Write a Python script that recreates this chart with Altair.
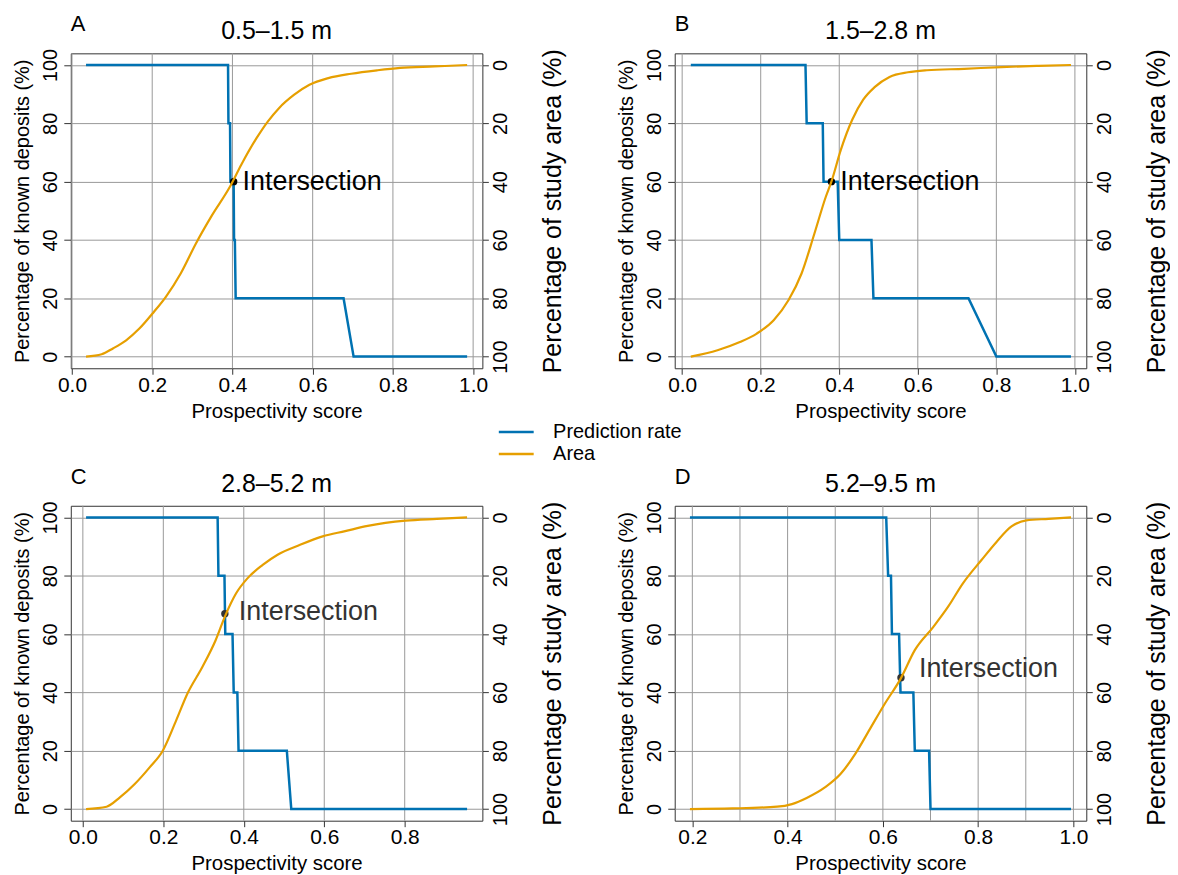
import altair as alt
import pandas as pd

FONT = "Liberation Sans"
BLUE = "#0072B2"
ORANGE = "#E69F00"

# ---------------- data ----------------
panel_letters = ["A", "B", "C", "D"]
panel_titles = ["0.5\u20131.5 m", "1.5\u20132.8 m", "2.8\u20135.2 m", "5.2\u20139.5 m"]
series_names = ["Prediction rate", "Area"]

# prediction rate curves (% of known deposits)
a_pr_score = [0.035, 0.389, 0.390, 0.394, 0.395, 0.403, 0.404, 0.406, 0.408, 0.677, 0.702, 0.985]
a_pr_pct = [100, 100, 80, 80, 60, 60, 40, 40, 20, 20, 0, 0]
b_pr_score = [0.022, 0.314, 0.317, 0.358, 0.360, 0.396, 0.400, 0.482, 0.487, 0.729, 0.800, 0.990]
b_pr_pct = [100, 100, 80, 80, 60, 60, 40, 40, 20, 20, 0, 0]
c_pr_score = [0.008, 0.335, 0.337, 0.352, 0.354, 0.372, 0.375, 0.384, 0.387, 0.507, 0.518, 0.955]
c_pr_pct = [100, 100, 80, 80, 60, 60, 40, 40, 20, 20, 0, 0]
d_pr_score = [0.195, 0.607, 0.611, 0.617, 0.619, 0.634, 0.637, 0.664, 0.667, 0.697, 0.700, 0.995]
d_pr_pct = [100, 100, 80, 80, 60, 60, 40, 40, 20, 20, 0, 0]

# area curves (% of study area, right reversed axis)
a_area_score = [0.035, 0.074, 0.102, 0.135, 0.168, 0.204, 0.234, 0.271, 0.309, 0.347, 0.394, 0.422,
                0.460, 0.488, 0.516, 0.554, 0.592, 0.639, 0.696, 0.762, 0.818, 0.903, 0.985]
a_area_pct = [100, 99.2, 97.2, 94.4, 90.4, 84.7, 79.5, 71.5, 61.2, 52.0, 41.7, 34.2,
              25.1, 19.4, 14.8, 10.2, 6.8, 4.5, 3.0, 1.8, 1.0, 0.5, 0]
b_area_score = [0.022, 0.090, 0.147, 0.190, 0.233, 0.271, 0.304, 0.337, 0.366, 0.380, 0.404,
                0.433, 0.461, 0.490, 0.528, 0.575, 0.623, 0.718, 0.813, 0.908, 0.990]
b_area_pct = [100, 97.8, 95.0, 92.1, 87.5, 80.6, 71.5, 57.7, 45.1, 40.0, 29.1,
              18.8, 11.9, 7.6, 4.1, 2.5, 1.8, 1.3, 0.7, 0.3, 0]
c_area_score = [0.008, 0.059, 0.092, 0.129, 0.166, 0.199, 0.232, 0.260, 0.297, 0.330, 0.353,
                0.381, 0.409, 0.447, 0.484, 0.540, 0.596, 0.652, 0.708, 0.802, 0.880, 0.955]
c_area_pct = [100, 99.2, 96.0, 91.4, 85.7, 79.9, 69.6, 60.4, 51.3, 42.1, 34.0,
              26.0, 20.9, 16.3, 12.8, 9.4, 6.5, 4.7, 2.9, 1.1, 0.5, 0]
d_area_score = [0.195, 0.284, 0.378, 0.409, 0.440, 0.479, 0.511, 0.542, 0.573, 0.604, 0.638,
                0.667, 0.706, 0.737, 0.768, 0.807, 0.839, 0.870, 0.901, 0.948, 0.995]
d_area_pct = [100, 99.8, 99.2, 98.3, 96.2, 92.5, 88.0, 81.1, 72.5, 63.9, 55.1,
              45.5, 37.5, 30.6, 22.6, 14.6, 8.3, 3.1, 1.0, 0.5, 0]

pr_scores = [a_pr_score, b_pr_score, c_pr_score, d_pr_score]
pr_pcts = [a_pr_pct, b_pr_pct, c_pr_pct, d_pr_pct]
area_scores = [a_area_score, b_area_score, c_area_score, d_area_score]
area_pcts = [a_area_pct, b_area_pct, c_area_pct, d_area_pct]

# intersection points
inter_score = [0.403, 0.380, 0.353, 0.638]
inter_pct = [60, 60, 67, 45]
inter_color = ["#000000", "#000000", "#333333", "#333333"]
inter_dx = [9, 9, 14, 18]
inter_dy = [0, 0, -2, -9]

# axes
x_domains = [[-0.003, 1.023], [-0.019, 1.029], [-0.030, 0.993], [0.163, 1.027]]
x_ticks = [[0.0, 0.2, 0.4, 0.6, 0.8, 1.0], [0.0, 0.2, 0.4, 0.6, 0.8, 1.0],
           [0.0, 0.2, 0.4, 0.6, 0.8], [0.2, 0.4, 0.6, 0.8, 1.0]]
x_grids = [[0.0, 0.2, 0.4, 0.6, 0.8, 1.0], [0.0, 0.2, 0.4, 0.6, 0.8, 1.0],
           [0.0, 0.2, 0.4, 0.6, 0.8], [0.2, 0.3, 0.4, 0.5, 0.6, 0.7, 0.8, 0.9, 1.0]]
y_ticks = [0, 20, 40, 60, 80, 100]
y_domain = [-4, 104]

PW, PH = 413, 316

color_enc = alt.Color(
    "series:N",
    scale=alt.Scale(domain=series_names, range=[BLUE, ORANGE]),
    legend=alt.Legend(
        title=None, orient="none", legendX=437, legendY=370,
        symbolType="M-3.5,0H3.5", symbolSize=100, symbolStrokeWidth=2.5,
        labelFontSize=20, labelOffset=27, rowPadding=2, labelFont=FONT,
        labelColor="#000",
    ),
)


def make_panel(i):
    xs = alt.Scale(domain=x_domains[i], nice=False, zero=False)
    xaxis = alt.Axis(values=x_ticks[i], format=".1f", title="Prospectivity score",
                     grid=False, domain=False, tickSize=6, labelFontSize=21,
                     titleFontSize=20.5, labelPadding=0, titlePadding=6,
                     labelFlush=False, labelOverlap=False)
    yl_scale = alt.Scale(domain=y_domain, nice=False, zero=False)
    yl_axis = alt.Axis(values=y_ticks, title="Percentage of known deposits (%)", grid=True,
                       domain=False, tickSize=7, labelAngle=270, labelFontSize=20,
                       titleFontSize=20, titlePadding=8, labelPadding=3)
    yr_scale = alt.Scale(domain=y_domain, nice=False, zero=False, reverse=True)
    yr_axis = alt.Axis(orient="right", values=y_ticks, title="Percentage of study area (%)",
                       grid=False, domain=False, tickSize=6, labelAngle=270, titleAngle=270,
                       labelFontSize=20, titleFontSize=25, titlePadding=55, labelPadding=2)

    df_pr = pd.DataFrame({"score": pr_scores[i], "pct": pr_pcts[i], "series": series_names[0]})
    df_ar = pd.DataFrame({"score": area_scores[i], "area": area_pcts[i], "series": series_names[1]})
    df_grid = pd.DataFrame({"score": x_grids[i]})
    df_int = pd.DataFrame({"score": [inter_score[i]], "pct": [inter_pct[i]], "label": ["Intersection"]})
    df_head = pd.DataFrame({"letter": [panel_letters[i]], "title": [panel_titles[i]]})

    grid = alt.Chart(df_grid).mark_rule(color="#999999", strokeWidth=1).encode(
        x=alt.X("score:Q", scale=xs, axis=xaxis))
    blue = alt.Chart(df_pr).mark_line(strokeWidth=2.5).encode(
        x=alt.X("score:Q", scale=xs, axis=xaxis),
        y=alt.Y("pct:Q", scale=yl_scale, axis=yl_axis),
        color=color_enc, order=alt.Order("score:Q"))
    pt = alt.Chart(df_int).mark_circle(size=55, opacity=1, color=inter_color[i]).encode(
        x=alt.X("score:Q", scale=xs, axis=xaxis),
        y=alt.Y("pct:Q", scale=yl_scale, axis=yl_axis))
    txt = alt.Chart(df_int).mark_text(align="left", baseline="middle", fontSize=27,
                                      dx=inter_dx[i], dy=inter_dy[i], color=inter_color[i],
                                      font=FONT).encode(
        x=alt.X("score:Q", scale=xs, axis=xaxis),
        y=alt.Y("pct:Q", scale=yl_scale, axis=yl_axis),
        text="label:N")
    letter = alt.Chart(df_head).mark_text(align="left", baseline="alphabetic", fontSize=22,
                                          font=FONT, color="#000").encode(
        text="letter:N", x=alt.value(0), y=alt.value(-22))
    title = alt.Chart(df_head).mark_text(align="center", baseline="alphabetic", fontSize=25,
                                         font=FONT, color="#000").encode(
        text="title:N", x=alt.value(PW / 2), y=alt.value(-14))
    inner = alt.layer(grid, blue, pt, txt, letter, title)
    orange = alt.Chart(df_ar).mark_line(strokeWidth=2.2, interpolate="monotone").encode(
        x=alt.X("score:Q", scale=xs, axis=xaxis),
        y=alt.Y("area:Q", scale=yr_scale, axis=yr_axis),
        color=color_enc, order=alt.Order("score:Q"))
    return alt.layer(inner, orange).resolve_scale(y="independent").properties(
        width=PW, height=PH)


row1 = alt.hconcat(make_panel(0), make_panel(1), spacing=50)
row2 = alt.hconcat(make_panel(2), make_panel(3), spacing=50)
chart = alt.vconcat(row1, row2, spacing=43).properties(
    padding={"left": 4, "top": 3, "right": 0, "bottom": 0},
    background="white",
).configure_view(stroke="#333333", strokeWidth=1).configure_axis(
    labelFont=FONT, titleFont=FONT, labelColor="#000", titleColor="#000",
    titleFontWeight="normal", tickColor="#333333", gridColor="#999999", gridWidth=1,
)

chart.save("out.html", embed_options={"renderer": "svg", "actions": False})
